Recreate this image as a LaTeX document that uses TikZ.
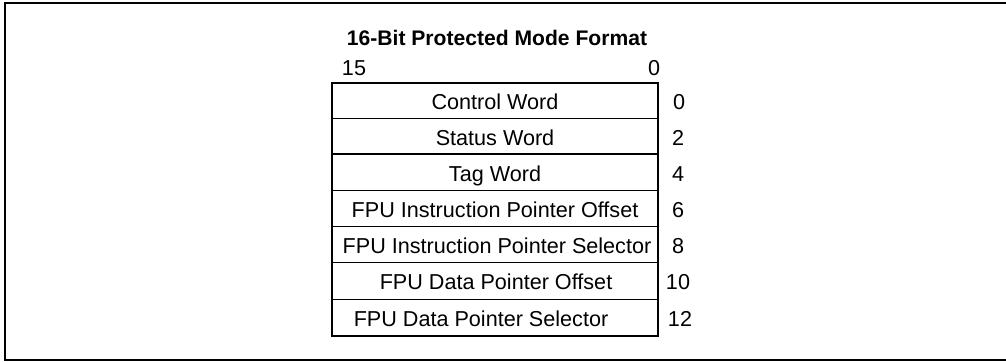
\documentclass[tikz,border=0pt]{standalone}
\usepackage{fontspec}
\setmainfont{Liberation Sans}
\begin{document}
\begin{tikzpicture}[x=0.5pt, y=-0.5pt,
          font=\fontsize{10.8}{13}\selectfont,
          frame/.style={draw=black, line width=1pt},
          box/.style={draw=black, line width=1.3pt},
          rowline/.style={draw=black, line width=0.8pt},
          field/.style={inner sep=0pt, anchor=center, text height=1.6ex, text depth=0.1ex},
          offs/.style={inner sep=0pt, anchor=center, text height=1.6ex, text depth=0.1ex}]
        \useasboundingbox (0,0) rectangle (1006,362);
        \draw[frame] (1008,3.5) -- (5,3.5) -- (5,360) -- (1008,360);
        \node[font=\fontsize{10.55}{13}\selectfont\bfseries] (title) at (497,38) {16-Bit Protected Mode Format};
        \node[field] (hi) at (354,68) {15};
        \node[field] (lo) at (654,68) {0};
        \draw[rowline] (332,118.5) -- (658,118.5);
        \draw[rowline] (332,154) -- (658,154);
        \draw[rowline] (332,190.5) -- (658,190.5);
        \draw[rowline] (332,226.5) -- (658,226.5);
        \draw[rowline] (332,262.5) -- (658,262.5);
        \draw[rowline] (332,299.5) -- (658,299.5);
        \draw[box] (332,83) rectangle (658,336);
        \node[field] (cw) at (495,102) {Control Word};
        \node[field] (sw) at (495,137.5) {Status Word};
        \node[field] (tw) at (495,173.5) {Tag Word};
        \node[field] (ipo) at (495,209.5) {FPU Instruction Pointer Offset};
        \node[field] (ips) at (497,245.5) {FPU Instruction Pointer Selector};
        \node[field] (dpo) at (496,282) {FPU Data Pointer Offset};
        \node[field] (dps) at (481,318.5) {FPU Data Pointer Selector};
        \node[offs] (o0) at (679,102) {0};
        \node[offs] (o2) at (678,137.5) {2};
        \node[offs] (o4) at (678,173.5) {4};
        \node[offs] (o6) at (678,209.5) {6};
        \node[offs] (o8) at (678,245.5) {8};
        \node[offs] (o10) at (678,282) {10};
        \node[offs] (o12) at (680,318.5) {12};
      \end{tikzpicture}
\end{document}
